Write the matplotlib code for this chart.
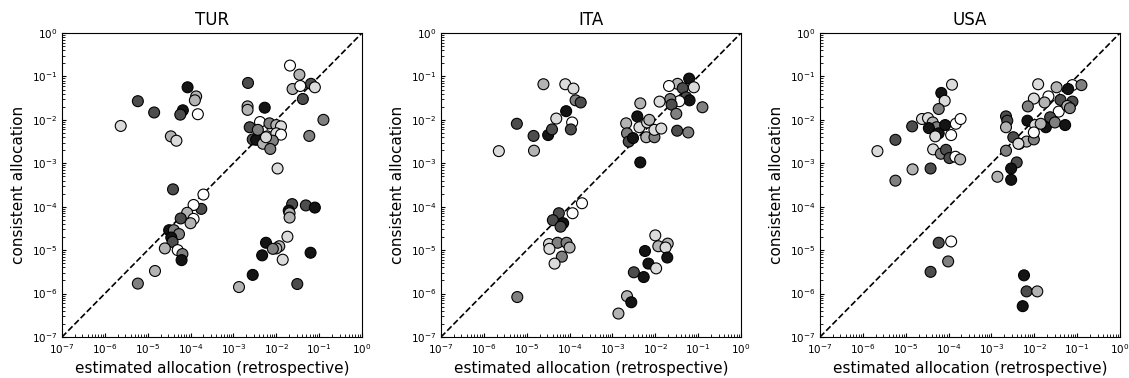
import numpy as np
import matplotlib
matplotlib.use("Agg")
import matplotlib.pyplot as plt

# log10 of estimated (x) and consistent (y) allocations, plus shade code
# shade: 0 black, 1 dark, 2 gray, 3 light gray, 4 very light, 5 white
TITLES = ["TUR", "ITA", "USA"]

tur_lx = [-1.68, -1.46, -2.66, -1.19, -1.62, -1.44, -1.10, -1.38, -4.07, -3.87,
          -3.90, -5.23, -4.85, -4.18, -4.24, -3.83, -5.63, -4.46, -4.33, -2.67,
          -2.67, -2.27, -2.62, -2.38, -2.16, -2.00, -1.89, -0.90, -1.23, -2.55,
          -2.47, -2.21, -2.00, -1.89, -2.31, -2.08, -2.14, -1.97, -2.43, -2.24,
          -4.41, -3.70, -3.75, -3.93, -4.08, -3.93, -4.00, -4.23, -4.50, -4.39,
          -4.27, -4.45, -4.42, -4.60, -4.30, -4.19, -4.21, -4.83, -5.23,
          -1.63, -1.31, -1.10, -1.71, -1.69, -1.69, -1.74, -2.24, -1.93, -2.00,
          -2.08, -2.33, -1.20, -1.85, -2.55, -2.87, -1.51]
tur_ly = [-0.75, -0.96, -1.15, -1.17, -1.29, -1.22, -1.25, -1.52, -1.25, -1.46,
          -1.55, -1.57, -1.83, -1.78, -1.88, -1.87, -2.14, -2.38, -2.48, -1.69,
          -1.77, -1.72, -2.17, -2.05, -2.08, -2.12, -2.15, -2.00, -2.37, -2.45,
          -2.46, -2.38, -2.31, -2.34, -2.55, -2.48, -2.67, -3.12, -2.23, -2.40,
          -3.60, -3.72, -4.05, -3.96, -4.14, -4.28, -4.38, -4.27, -4.54, -4.54,
          -4.63, -4.71, -4.81, -4.96, -5.00, -5.09, -5.23, -5.48, -5.77,
          -3.94, -3.97, -4.02, -4.09, -4.15, -4.25, -4.69, -4.83, -4.91, -4.96,
          -4.97, -5.12, -5.06, -5.22, -5.57, -5.85, -5.78]
tur_shade = [5, 3, 1, 1, 3, 5, 4, 1, 0, 3,
             3, 1, 1, 0, 1, 5, 4, 3, 4, 3,
             3, 0, 1, 5, 2, 3, 4, 2, 2, 1,
             0, 5, 4, 5, 3, 2, 2, 4, 2, 4,
             1, 5, 1, 5, 3, 5, 3, 1, 0, 2,
             2, 0, 1, 3, 5, 2, 0, 3, 2,
             1, 1, 0, 0, 3, 3, 4, 0, 3, 3,
             2, 0, 0, 4, 0, 3, 1]

ita_lx = [-4.61, -4.10, -3.91, -3.86, -3.74, -4.08, -4.31, -3.94, -3.97, -5.23,
          -4.84, -4.50, -4.41, -4.83, -5.65,
          -1.21, -1.48, -1.68, -1.10, -1.36, -1.28, -1.20, -1.44, -1.65, -1.62,
          -1.90, -0.90, -2.35, -1.51, -1.49, -1.23, -2.42, -2.68, -2.66, -2.62,
          -2.52, -2.37, -2.19, -2.14, -2.21, -2.02, -2.02, -1.86, -2.35,
          -3.71, -3.93, -4.25, -4.39, -4.15, -4.21, -4.48, -4.28, -4.07, -4.00,
          -4.47, -4.18, -4.35, -5.22,
          -2.00, -1.93, -1.71, -1.76, -1.72, -2.24, -2.16, -1.98, -2.50, -2.27,
          -2.66, -2.56, -2.86]
ita_ly = [-1.18, -1.18, -1.28, -1.55, -1.60, -1.80, -1.97, -2.06, -2.22, -2.09,
          -2.37, -2.35, -2.22, -2.71, -2.72,
          -1.05, -1.17, -1.22, -1.25, -1.27, -1.48, -1.55, -1.57, -1.52, -1.65,
          -1.58, -1.71, -1.62, -1.86, -2.25, -2.29, -1.92, -2.08, -2.31, -2.50,
          -2.42, -2.17, -2.06, -2.00, -2.40, -2.40, -2.23, -2.20, -2.98,
          -3.92, -4.15, -4.15, -4.31, -4.38, -4.46, -4.86, -4.83, -4.83, -4.94,
          -4.97, -5.15, -5.31, -6.08,
          -4.66, -4.91, -4.85, -4.94, -5.17, -5.02, -5.31, -5.42, -5.51, -5.62,
          -6.06, -6.20, -6.46]
ita_shade = [3, 4, 4, 2, 1, 0, 4, 5, 1, 1,
             1, 0, 1, 3, 4,
             0, 3, 5, 4, 1, 1, 0, 5, 2, 1,
             4, 2, 3, 2, 1, 2, 0, 3, 2, 1,
             0, 4, 4, 3, 3, 2, 4, 4, 0,
             5, 5, 1, 1, 0, 1, 4, 2, 2, 3,
             4, 2, 4, 2,
             4, 3, 3, 4, 0, 0, 0, 4, 1, 0,
             3, 0, 3]

usa_lx = [-3.92, -4.17, -4.09, -4.23, -4.85, -4.62, -4.48, -4.37, -4.28, -4.46,
          -4.23, -4.31, -4.08, -3.94, -3.83, -3.72, -5.24, -5.66, -4.36, -4.18,
          -4.06, -3.98, -3.84, -3.73, -4.84, -4.42, -5.24,
          -1.91, -1.48, -1.11, -0.90, -1.21, -2.01, -1.67, -1.76, -1.39, -1.11,
          -2.15, -1.43, -1.23, -1.17, -2.66, -2.63, -2.66, -2.16, -1.63, -1.73,
          -1.52, -1.28, -1.98, -1.85, -2.49, -2.35, -2.18, -2.01, -2.01, -2.66,
          -2.37, -2.41, -2.54, -2.54, -2.86,
          -4.23, -3.94, -4.01, -4.42,
          -2.24, -2.18, -1.93, -2.27]
usa_ly = [-1.19, -1.38, -1.56, -1.75, -2.15, -1.98, -1.96, -2.06, -2.17, -2.19,
          -2.31, -2.38, -2.12, -2.35, -2.09, -1.98, -2.46, -2.72, -2.68, -2.78,
          -2.69, -2.88, -2.85, -2.91, -3.14, -3.12, -3.40,
          -1.18, -1.25, -1.20, -1.20, -1.29, -1.51, -1.46, -1.60, -1.54, -1.58,
          -1.69, -1.81, -1.68, -1.73, -1.92, -2.02, -2.17, -2.02, -1.94, -2.17,
          -2.06, -2.12, -2.12, -2.09, -2.40, -2.55, -2.50, -2.45, -2.29, -2.71,
          -2.55, -2.98, -3.12, -3.38, -3.31,
          -4.83, -4.80, -5.26, -5.50,
          -5.58, -5.95, -5.95, -6.29]
usa_shade = [4, 0, 4, 2, 1, 4, 4, 3, 2, 0,
             0, 4, 0, 5, 5, 5, 1, 4, 4, 2,
             1, 1, 5, 3, 3, 1, 2,
             4, 3, 5, 2, 0, 4, 5, 3, 1, 1,
             2, 5, 3, 2, 1, 1, 3, 0, 1, 0,
             2, 0, 4, 3, 1, 2, 3, 2, 5, 2,
             4, 1, 0, 0, 3,
             1, 5, 2, 1,
             0, 1, 3, 0]

SHADE_LEVELS = [0.08, 0.3, 0.5, 0.7, 0.86, 1.0]

panels = [(tur_lx, tur_ly, tur_shade),
          (ita_lx, ita_ly, ita_shade),
          (usa_lx, usa_ly, usa_shade)]

fig = plt.figure(figsize=(11.29, 3.78), dpi=100)
lefts = [62, 441, 820]

for i, (lx, ly, shade) in enumerate(panels):
    ax = fig.add_axes([lefts[i] / 1129, 41 / 378, 300 / 1129, 304 / 378])
    x = 10.0 ** np.array(lx)
    y = 10.0 ** np.array(ly)
    colors = [str(SHADE_LEVELS[s]) for s in shade]
    ax.plot([1e-7, 1], [1e-7, 1], 'k--', lw=1.2, zorder=1)
    ax.scatter(x, y, s=62, c=colors, edgecolors='black', linewidths=0.8, zorder=2)
    ax.set_xscale('log')
    ax.set_yscale('log')
    ax.set_xlim(1e-7, 1)
    ax.set_ylim(1e-7, 1)
    ax.set_xticks([10.0 ** k for k in range(-7, 1)])
    ax.set_yticks([10.0 ** k for k in range(-7, 1)])
    ax.tick_params(which='both', direction='in', labelsize=7.5)
    ax.tick_params(which='major', length=3)
    ax.tick_params(which='minor', length=2)
    ax.set_title(TITLES[i], fontsize=12)
    ax.set_xlabel('estimated allocation (retrospective)', fontsize=11)
    ax.set_ylabel('consistent allocation', fontsize=11)

fig.savefig('out.png', dpi=100)
